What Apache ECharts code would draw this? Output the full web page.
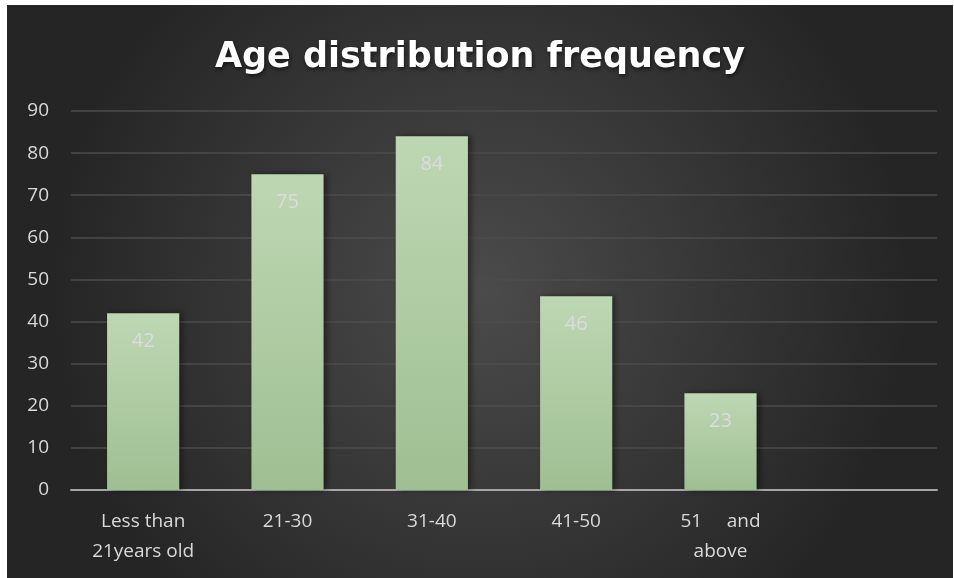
<!DOCTYPE html>
<html>
<head>
<meta charset="utf-8">
<script src="https://cdn.jsdelivr.net/npm/echarts@6/dist/echarts.min.js"></script>
<style>
  html, body {
    margin: 0;
    padding: 0;
    background: #fff;
  }
  #chart {
    position: absolute;
    left: 7px;
    top: 5px;
    width: 946px;
    height: 573px;
  }
</style>
</head>
<body>
<div id="chart"></div>
<script>
// age groups, the last slot is left empty like the original sheet
const categories = ['Less than\n21years old', '21-30', '31-40', '41-50', '51     and\nabove', '']
const frequency = [42, 75, 84, 46, 23, null]
const yTicks = { min: 0, max: 90, step: 10 }

const chart = echarts.init(document.getElementById('chart'))

chart.setOption({
  backgroundColor: {
    type: 'radial',
    x: 0.5,
    y: 0.5,
    r: 0.75,
    colorStops: [
      { offset: 0, color: '#4b4b4b' },
      { offset: 1, color: '#252525' }
    ]
  },
  title: {
    text: 'Age distribution frequency',
    left: 'center',
    top: 30,
    textStyle: {
      color: '#ffffff',
      fontFamily: 'DejaVu Sans',
      fontWeight: 'bold',
      fontSize: 35,
      textShadowColor: 'rgba(0, 0, 0, 0.6)',
      textShadowBlur: 4,
      textShadowOffsetX: 1,
      textShadowOffsetY: 2
    }
  },
  grid: {
    left: 64,
    right: 16,
    top: 106,
    bottom: 88
  },
  xAxis: {
    type: 'category',
    data: categories,
    axisLine: {
      lineStyle: { color: '#a6a6a6', width: 2 }
    },
    axisTick: { show: false },
    axisLabel: {
      color: '#d9d9d9',
      fontFamily: 'Open Sans',
      fontSize: 19,
      lineHeight: 30,
      margin: 17,
      interval: 0
    }
  },
  yAxis: {
    type: 'value',
    min: yTicks.min,
    max: yTicks.max,
    interval: yTicks.step,
    axisLine: { show: false },
    axisTick: { show: false },
    axisLabel: {
      color: '#d9d9d9',
      fontFamily: 'Open Sans',
      fontSize: 19,
      margin: 22
    },
    splitLine: {
      lineStyle: { color: '#4d4d4d', width: 1.5 }
    }
  },
  series: [
    {
      name: 'Frequency',
      type: 'bar',
      barWidth: '50%',
      data: frequency,
      itemStyle: {
        color: {
          type: 'linear',
          x: 0,
          y: 0,
          x2: 0,
          y2: 1,
          colorStops: [
            { offset: 0, color: '#bdd7b3' },
            { offset: 1, color: '#9fbf92' }
          ]
        },
        shadowColor: 'rgba(0, 0, 0, 0.45)',
        shadowBlur: 6,
        shadowOffsetX: 3,
        shadowOffsetY: 0
      },
      label: {
        show: true,
        position: 'insideTop',
        distance: 18,
        color: '#dcdcdc',
        fontFamily: 'Open Sans',
        fontSize: 20
      }
    }
  ]
})
</script>
</body>
</html>
